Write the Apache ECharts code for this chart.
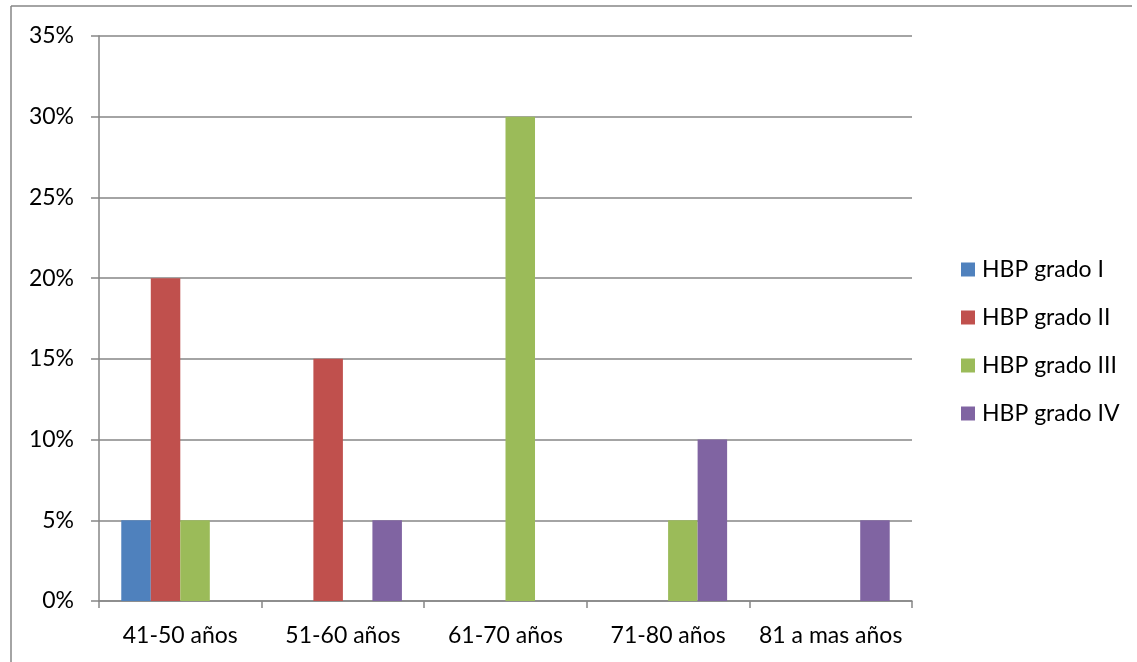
<!DOCTYPE html>
<html>
<head>
<meta charset="utf-8">
<script src="https://cdn.jsdelivr.net/npm/echarts@6/dist/echarts.min.js"></script>
<style>
  html, body { margin: 0; padding: 0; background: #fff; }
  #chart { width: 1137px; height: 662px; }
</style>
</head>
<body>
<div id="chart"></div>
<script>
// Age groups on the x axis
const categories = ['41-50 años', '51-60 años', '61-70 años', '71-80 años', '81 a mas años'];
// Percent of patients per HBP grade in each age group
const grado1 = [5, 0, 0, 0, 0];
const grado2 = [20, 15, 0, 0, 0];
const grado3 = [5, 0, 30, 5, 0];
const grado4 = [0, 5, 0, 10, 5];
const seriesNames = ['HBP grado I', 'HBP grado II', 'HBP grado III', 'HBP grado IV'];
const seriesColors = ['#4F81BD', '#C0504D', '#9BBB59', '#8064A2'];

const font = 'Lato, "Open Sans", sans-serif';
const fontSize = 23;
const gridColor = '#868686';

const chart = echarts.init(document.getElementById('chart'));
const values = [grado1, grado2, grado3, grado4];

chart.setOption({
  animation: false,
  textStyle: { fontFamily: font },
  grid: { left: 99, right: 225, top: 36, bottom: 61, containLabel: false },
  graphic: [
    { type: 'line', shape: { x1: 11, y1: 6, x2: 1132, y2: 6 }, style: { stroke: gridColor, lineWidth: 1.5 } },
    { type: 'line', shape: { x1: 11, y1: 6, x2: 11, y2: 662 }, style: { stroke: gridColor, lineWidth: 1.5 } }
  ],
  legend: {
    orient: 'vertical',
    left: 956,
    top: 252,
    itemWidth: 14,
    itemHeight: 14,
    itemGap: 23,
    icon: 'rect',
    data: seriesNames,
    textStyle: { fontFamily: font, fontSize: fontSize, color: '#000', lineHeight: 25, padding: [0, 0, 0, 2] }
  },
  xAxis: {
    type: 'category',
    data: categories,
    boundaryGap: true,
    axisLine: { lineStyle: { color: gridColor, width: 1.5 } },
    axisTick: { show: true, length: 7, alignWithLabel: false, lineStyle: { color: gridColor, width: 1.5 } },
    axisLabel: { color: '#000', fontSize: fontSize, fontFamily: font, margin: 23, interval: 0 },
    splitLine: { show: false }
  },
  yAxis: {
    type: 'value',
    min: 0,
    max: 35,
    interval: 5,
    axisLine: { show: true, lineStyle: { color: gridColor, width: 1.5 } },
    axisTick: { show: true, length: 8, lineStyle: { color: gridColor, width: 1.5 } },
    axisLabel: { color: '#000', fontSize: fontSize, fontFamily: font, margin: 25, formatter: '{value}%' },
    splitLine: { show: true, lineStyle: { color: gridColor, width: 1.5 } }
  },
  series: values.map((v, i) => ({
    name: seriesNames[i],
    type: 'bar',
    data: v,
    barGap: '0%',
    barCategoryGap: '27.4%',
    itemStyle: { color: seriesColors[i] }
  }))
});
</script>
</body>
</html>
